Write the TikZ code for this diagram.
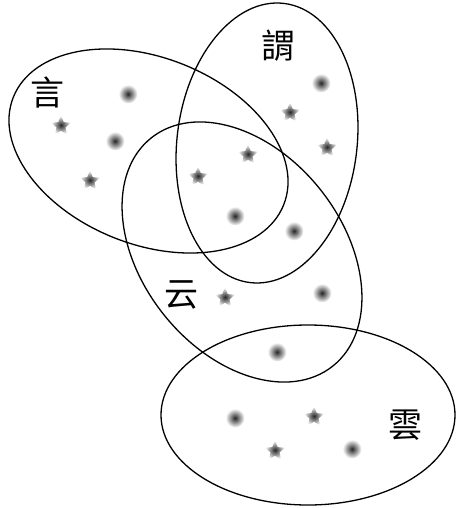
\documentclass[tikz,border=0pt]{standalone}
\usepackage{fontspec}
\newfontfamily\cjk{Noto Sans CJK TC}
\usepackage{tikz}
\usetikzlibrary{shapes.geometric,positioning}

\begin{document}
\begin{tikzpicture}[x=1pt,y=-1pt,
        ring/.style={line width=1.3pt},
        dotpt/.style={circle, minimum size=19pt, inner sep=0pt, shade, inner color=black!85, outer color=white},
        starpt/.style={star, star points=5, star point ratio=2.2, minimum size=21pt, inner sep=0pt, shade, inner color=black!85, outer color=white},
        word/.style={font=\cjk\fontsize{34}{34}\selectfont, inner sep=0pt}]
                \useasboundingbox (0,0) rectangle (455,508);
                \coordinate (yan) at (148.5,151);
                \coordinate (wei) at (267,143);
                \coordinate (yun) at (242,252);
                \coordinate (yun2) at (308,415);
                % the four sets
                \draw[ring, shift={(yan)}, rotate=-21.7] (0,0) ellipse [x radius=145.5, y radius=93.3];
                \draw[ring, shift={(wei)}, rotate=-7] (0,0) ellipse [x radius=90, y radius=140.6];
                \draw[ring, shift={(yun)}, rotate=38.5] (0,0) ellipse [x radius=100.2, y radius=145.8];
                \draw[ring, shift={(yun2)}] (0,0) ellipse [x radius=147, y radius=90];
                % labels
                \node[word] (lyan) at (47,93) {言};
                \node[word] (lwei) at (278,46) {謂};
                \node[word] (lyun) at (181,295) {云};
                \node[word] (lyun2) at (405,425) {雲};
                % elements
                \node[dotpt] (d1) at (128,94) {};
                \node[starpt] (s1) at (61,126) {};
                \node[dotpt] (d2) at (115,141) {};
                \node[starpt] (s2) at (90,181) {};
                \node[dotpt] (d3) at (321,83) {};
                \node[starpt] (s3) at (290,113) {};
                \node[starpt] (s4) at (327,148) {};
                \node[starpt] (s5) at (248,155) {};
                \node[starpt] (s6) at (198,177) {};
                \node[dotpt] (d4) at (235,216) {};
                \node[dotpt] (d5) at (294,231) {};
                \node[starpt] (s7) at (225,298) {};
                \node[dotpt] (d6) at (322,293) {};
                \node[dotpt] (d7) at (277,352) {};
                \node[dotpt] (d8) at (235,418) {};
                \node[starpt] (s8) at (314,417) {};
                \node[starpt] (s9) at (275,451) {};
                \node[dotpt] (d9) at (352,449) {};
            \end{tikzpicture}
\end{document}
